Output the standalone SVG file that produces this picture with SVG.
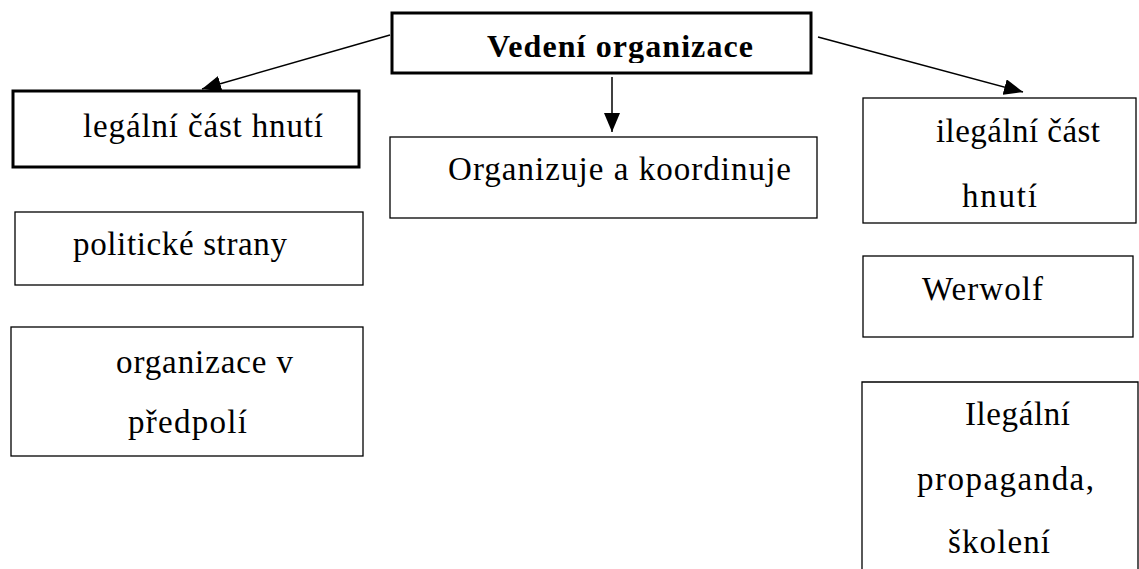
<svg xmlns="http://www.w3.org/2000/svg" width="1139" height="569" viewBox="0 0 1139 569">
<style>
.box{fill:#fff;stroke:#000;stroke-width:1.3}
.thick{stroke-width:3}
.t{font-family:"Liberation Serif","Times New Roman",serif;font-size:33px;fill:#000}
.b{font-weight:bold;font-size:32px}
.conn{stroke:#000;stroke-width:1.5;fill:none}
</style>
<defs>
<marker id="arr" markerUnits="userSpaceOnUse" markerWidth="20" markerHeight="16" refX="19" refY="8" orient="auto">
<path d="M0,0 L19,8 L0,16 z" fill="#000"/>
</marker>
<clipPath id="clipTop"><rect x="393" y="14" width="417" height="49"/></clipPath>
</defs>
<rect width="1139" height="569" fill="#fff"/>
<g id="connectors">
<line class="conn" x1="390" y1="35" x2="202" y2="89" marker-end="url(#arr)"/>
<line class="conn" x1="612" y1="77" x2="612" y2="132" marker-end="url(#arr)"/>
<line class="conn" x1="818" y1="37" x2="1023" y2="92" marker-end="url(#arr)"/>
</g>
<g id="vedeni">
<rect class="box thick" x="392" y="13" width="419" height="60"/>
<text class="t b" x="487" y="57" textLength="266" clip-path="url(#clipTop)">Vedení organizace</text>
</g>
<g id="legalni">
<rect class="box thick" x="13" y="91" width="346" height="76"/>
<text class="t" x="83" y="137" textLength="240">legální část hnutí</text>
</g>
<g id="koordinuje">
<rect class="box" x="390" y="137" width="427" height="81"/>
<text class="t" x="448" y="180" textLength="343">Organizuje a koordinuje</text>
</g>
<g id="ilegalni">
<rect class="box" x="863" y="98" width="273" height="125"/>
<text class="t" x="936" y="142" textLength="164">ilegální část</text>
<text class="t" x="962" y="207" textLength="75">hnutí</text>
</g>
<g id="werwolf">
<rect class="box" x="863" y="256" width="270" height="81"/>
<text class="t" x="922" y="300" textLength="121">Werwolf</text>
</g>
<g id="propaganda">
<path class="box" d="M862,570 L862,382 L1138,382 L1138,570"/>
<text class="t" x="965" y="425" textLength="105">Ilegální</text>
<text class="t" x="917" y="490" textLength="177">propaganda,</text>
<text class="t" x="948" y="553" textLength="102">školení</text>
</g>
<g id="strany">
<rect class="box" x="15" y="212" width="348" height="73"/>
<text class="t" x="73" y="255" textLength="214">politické strany</text>
</g>
<g id="predpoli">
<rect class="box" x="11" y="327" width="352" height="129"/>
<text class="t" x="116" y="373" textLength="177">organizace v</text>
<text class="t" x="128" y="433" textLength="119">předpolí</text>
</g>
</svg>
